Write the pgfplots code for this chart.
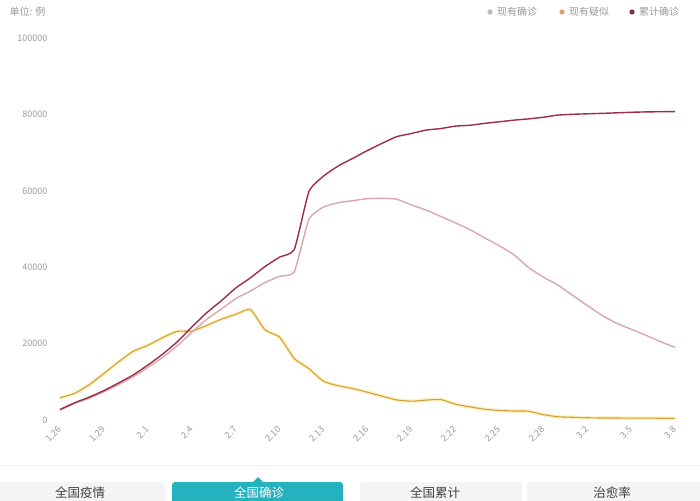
\documentclass[border=0pt]{standalone}
\usepackage{fontspec}
\setmainfont{Noto Sans CJK SC}
\usepackage{pgfplots}
\pgfplotsset{compat=1.18}
\usepackage{pgfplotstable}

\definecolor{cumred}{HTML}{9E2E45}
\definecolor{curpink}{HTML}{D9A7AC}
\definecolor{susgold}{HTML}{D7A13A}
\definecolor{sushalo}{HTML}{F6E27E}
\definecolor{labelgray}{HTML}{9A9A9A}
\definecolor{tabgray}{HTML}{F4F4F4}
\definecolor{tabteal}{HTML}{24B3BE}
\definecolor{dotgray}{HTML}{B9B9B9}
\definecolor{dottan}{HTML}{D9A86E}
\definecolor{dotplum}{HTML}{7B3049}

% day 0 = 1.26 ... day 42 = 3.8
% cum: 累计确诊, cur: 现有确诊, sus: 现有疑似
\pgfplotstableread{
day cum cur sus
0 2744 2616 5794
1 4515 4333 6973
2 5974 5737 9239
3 7711 7388 12167
4 9692 9264 15238
5 11791 11291 17988
6 14380 13748 19544
7 17205 16369 21558
8 20438 19381 23214
9 24324 22942 23260
10 28018 26302 24702
11 31161 28985 26359
12 34546 31774 27657
13 37198 33738 28942
14 40171 35982 23589
15 42638 37626 21675
16 44653 38800 16067
17 59804 52526 13435
18 63851 55748 10109
19 66492 56873 8969
20 68500 57416 8228
21 70548 57934 7264
22 72436 58016 6242
23 74185 57805 5248
24 75002 56303 4922
25 75891 54965 5206
26 76288 53284 5365
27 76936 51606 4148
28 77150 49824 3434
29 77658 47672 2824
30 78064 45604 2491
31 78497 43258 2358
32 78824 39919 2308
33 79251 37414 1418
34 79824 35329 851
35 80026 32652 715
36 80151 30004 587
37 80270 27433 520
38 80409 25352 522
39 80552 23784 482
40 80651 22177 502
41 80695 20533 458
42 80735 19016 421
}\epidata

\begin{document}
\begin{tikzpicture}[x=1pt,y=1pt]
\clip (0,0) rectangle (700,500);
\fill[white] (0,0) rectangle (700,500);

% unit note and legend
\node[anchor=west, text=labelgray, font=\fontsize{10}{10}\selectfont] at (6,488) {单位: 例};
\fill[dotgray] (490,488) circle (2.6);
\node[anchor=west, text=labelgray, font=\fontsize{10}{10}\selectfont, inner sep=0] at (497,488) {现有确诊};
\fill[dottan] (562,488) circle (2.6);
\node[anchor=west, text=labelgray, font=\fontsize{10}{10}\selectfont, inner sep=0] at (569,488) {现有疑似};
\fill[dotplum] (632,488) circle (2.6);
\node[anchor=west, text=labelgray, font=\fontsize{10}{10}\selectfont, inner sep=0] at (639,488) {累计确诊};

% tab bar
\draw[color=black!6, line width=1pt] (0,35) -- (700,35);
\fill[tabgray, rounded corners=3pt] (-6,-12) rectangle (165,18);
\fill[tabteal, rounded corners=3pt] (172,-12) rectangle (343,18);
\fill[tabteal] (252,17) -- (258,23) -- (264,17) -- cycle;
\fill[tabgray, rounded corners=3pt] (360,-12) rectangle (522,18);
\fill[tabgray, rounded corners=3pt] (527,-12) rectangle (710,18);
\node[text=black!75, font=\fontsize{12.5}{13}\selectfont, inner sep=0] at (80,7) {全国疫情};
\node[text=white, font=\fontsize{12.5}{13}\selectfont, inner sep=0] at (259,7) {全国确诊};
\node[text=black!75, font=\fontsize{12.5}{13}\selectfont, inner sep=0] at (435,7) {全国累计};
\node[text=black!75, font=\fontsize{12.5}{13}\selectfont, inner sep=0] at (612,7) {治愈率};

\begin{axis}[
  at={(60pt,80pt)}, anchor=south west,
  scale only axis, width=615pt, height=382pt,
  xmin=0, xmax=42, ymin=0, ymax=100000,
  clip=false,
  axis line style={draw=none},
  major tick length=0pt,
  xtick={0,3,...,42},
  xticklabels={1.26,1.29,2.1,2.4,2.7,2.10,2.13,2.16,2.19,2.22,2.25,2.28,3.2,3.5,3.8},
  ytick={0,20000,40000,60000,80000,100000},
  scaled y ticks=false,
  /pgf/number format/.cd, fixed, 1000 sep={}, assume math mode=true, /pgfplots/.cd,
  tick label style={text=labelgray, font=\fontsize{9}{9}\selectfont},
  xticklabel style={rotate=45, anchor=east, inner sep=1pt, text height=1.3ex, text depth=0pt},
  xticklabel shift=7pt,
  yticklabel shift=9pt,
]
\addplot[sushalo, line width=3.6pt, opacity=0.45, smooth, tension=0.3] table[x=day,y=sus]{\epidata};
\addplot[susgold, line width=1.1pt, smooth, tension=0.3] table[x=day,y=sus]{\epidata};
\addplot[curpink, line width=1.4pt, smooth, tension=0.3] table[x=day,y=cur]{\epidata};
\addplot[cumred, line width=1.4pt, smooth, tension=0.3] table[x=day,y=cum]{\epidata};
\end{axis}
\end{tikzpicture}
\end{document}
